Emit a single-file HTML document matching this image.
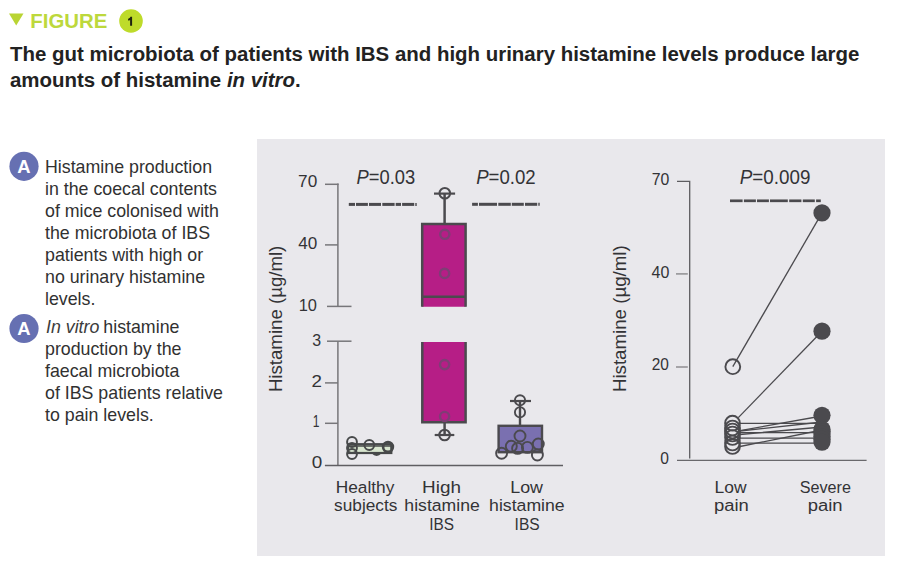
<!DOCTYPE html>
<html><head><meta charset="utf-8">
<style>
html,body{margin:0;padding:0;background:#fff;}
body{width:900px;height:583px;overflow:hidden;position:relative;font-family:"Liberation Sans",sans-serif;}
svg{position:absolute;left:0;top:0;}
text{font-family:"Liberation Sans",sans-serif;}
</style></head>
<body>
<svg width="900" height="583" viewBox="0 0 900 583">
  <!-- header -->
  <polygon points="9,13.5 23.5,13.5 16.2,25.5" fill="#b9d433"/>
  
  <circle cx="131" cy="21" r="11.8" fill="#bedb2a"/>
  <path d="M132.1,16.8 V25.8 H130.1 V19.9 C129.5,20.2 128.8,20.4 128.1,20.5 V18.8 C129.2,18.6 130,17.9 130.4,16.8 Z" fill="#1f2310"/>
  <text x="10" y="61.2" font-size="20.45" font-weight="bold" fill="#222">The gut microbiota of patients with IBS and high urinary histamine levels produce large</text>
  <text x="10" y="86.6" font-size="20.45" font-weight="bold" fill="#222">amounts of histamine <tspan font-style="italic">in vitro</tspan>.</text>

  <!-- left text -->
  <circle cx="24" cy="166.3" r="14.6" fill="#6670b2"/>
  <text x="23.9" y="172.8" font-size="18.4" font-weight="bold" fill="#fff" text-anchor="middle">A</text>
  <g font-size="17.8" fill="#313131">
    <text x="45" y="172.70">Histamine production</text>
    <text x="45" y="194.75">in the coecal contents</text>
    <text x="45" y="216.80">of mice colonised with</text>
    <text x="45" y="238.85">the microbiota of IBS</text>
    <text x="45" y="260.90">patients with high or</text>
    <text x="45" y="282.95">no urinary histamine</text>
    <text x="45" y="305.00">levels.</text>
  </g>
  <circle cx="24" cy="328.5" r="14.6" fill="#6670b2"/>
  <text x="23.9" y="334.9" font-size="18.4" font-weight="bold" fill="#fff" text-anchor="middle">A</text>
  <g font-size="17.8" fill="#313131">
    <text x="45" y="333.10"><tspan font-style="italic" fill="#3c3c3c" dx="1">In vitro</tspan><tspan dx="-1"> histamine</tspan></text>
    <text x="45" y="355.15">production by the</text>
    <text x="45" y="377.20">faecal microbiota</text>
    <text x="45" y="399.25">of IBS patients relative</text>
    <text x="45" y="421.30">to pain levels.</text>
  </g>

  <!-- panel -->
  <rect x="257" y="139" width="628" height="417" fill="#e9e8ec"/>

  <!-- chart 1 -->
  <g stroke="#77767a" stroke-width="1.5" fill="none">
    <line x1="337.9" y1="183.6" x2="337.9" y2="306.4"/>
    <line x1="337.9" y1="341.2" x2="337.9" y2="465.3"/>
    <line x1="325" y1="184.3" x2="338.6" y2="184.3"/>
    <line x1="325" y1="244.9" x2="338" y2="244.9"/>
    <line x1="327" y1="306.4" x2="351.5" y2="306.4"/>
    <line x1="327" y1="341.2" x2="351.5" y2="341.2"/>
    <line x1="325" y1="382.9" x2="338" y2="382.9"/>
    <line x1="325" y1="423.3" x2="338" y2="423.3"/>
  </g>
  <line x1="324.9" y1="465.5" x2="563" y2="465.5" stroke="#5f5e62" stroke-width="1.4"/>
  <g stroke="#4b4a4e" stroke-width="3">
    <line x1="348.8" y1="204.4" x2="355" y2="204.4"/><line x1="356" y1="204.4" x2="367.9" y2="204.4"/><line x1="369" y1="204.4" x2="381" y2="204.4"/><line x1="382.3" y1="204.4" x2="394.6" y2="204.4"/><line x1="395.7" y1="204.4" x2="401" y2="204.4"/><line x1="402.1" y1="204.4" x2="414.2" y2="204.4"/><line x1="415.3" y1="204.4" x2="416.7" y2="204.4"/>
    <line x1="472.1" y1="204.3" x2="477.9" y2="204.3"/><line x1="479" y1="204.3" x2="497" y2="204.3"/><line x1="498.3" y1="204.3" x2="510.8" y2="204.3"/><line x1="511.8" y1="204.3" x2="523.8" y2="204.3"/><line x1="525" y1="204.3" x2="537.2" y2="204.3"/><line x1="538.3" y1="204.3" x2="539.7" y2="204.3"/>
  </g>
  <!-- healthy -->
  <rect x="348" y="444.2" width="43.3" height="8.8" fill="#d8e6cf" stroke="#47494a" stroke-width="2.2"/>
  <line x1="348" y1="446" x2="391.3" y2="446" stroke="#47494a" stroke-width="1.6"/>
  <g fill="none" stroke="#47494a" stroke-width="2">
    <circle cx="352" cy="442" r="4.9"/>
    <circle cx="352" cy="448" r="4.9"/>
    <circle cx="352" cy="454" r="4.9"/>
    <circle cx="369.3" cy="445" r="4.9"/>
    <path d="M372.3,452.6 Q376.6,457.2 380.9,452.6"/>
    <circle cx="388" cy="447" r="4.9" stroke-width="2.6"/>
  </g>
  <!-- high upper -->
  <line x1="444.6" y1="193.5" x2="444.6" y2="224" stroke="#4b4a4e" stroke-width="2.5"/>
  <line x1="434" y1="193.6" x2="455.1" y2="193.6" stroke="#4b4a4e" stroke-width="2.2"/>
  <circle cx="444.8" cy="193.2" r="5.3" fill="none" stroke="#4b4a4e" stroke-width="2"/>
  <path d="M422.2,306.8 V224.1 H465.6 V306.8" fill="#b61e86" stroke="#4b4a4e" stroke-width="2.5"/>
  <line x1="422.2" y1="296.8" x2="465.6" y2="296.8" stroke="#4b4a4e" stroke-width="2.5"/>
  <g fill="none" stroke="#7f3d75" stroke-width="2.4">
    <circle cx="444.8" cy="234.3" r="4.6"/>
    <circle cx="444.6" cy="273.4" r="4.6"/>
  </g>
  <!-- high lower -->
  <path d="M422.3,342 V422.2 H465.6 V342" fill="#b61e86" stroke="#4b4a4e" stroke-width="2.5"/>
  <g fill="none" stroke="#7f3d75" stroke-width="2.4">
    <circle cx="444.6" cy="364.6" r="4.6"/>
    <circle cx="444.6" cy="416.5" r="4.6"/>
  </g>
  <line x1="444.6" y1="422" x2="444.6" y2="435" stroke="#4b4a4e" stroke-width="2.5"/>
  <line x1="434.7" y1="435" x2="454.3" y2="435" stroke="#4b4a4e" stroke-width="2.2"/>
  <circle cx="444.6" cy="435" r="5.3" fill="none" stroke="#4b4a4e" stroke-width="2"/>
  <!-- low -->
  <line x1="520" y1="401" x2="520" y2="426" stroke="#4b4a4e" stroke-width="2.4"/>
  <line x1="510" y1="401" x2="531" y2="401" stroke="#4b4a4e" stroke-width="2.2"/>
  <rect x="498.6" y="425.8" width="43.4" height="26.4" fill="#7a70b0" stroke="#4b4a4e" stroke-width="2.4"/>
  <g fill="none" stroke="#4b4a4e" stroke-width="1.9">
    <circle cx="520" cy="400.3" r="5.1"/>
    <circle cx="520" cy="412.2" r="5.1"/>
    <circle cx="520" cy="436" r="5.5"/>
    <circle cx="501.6" cy="453.2" r="5.5"/>
    <circle cx="511.3" cy="446.2" r="5.5"/>
    <circle cx="517.6" cy="448.4" r="5.5"/>
    <circle cx="527.4" cy="447.4" r="5.5"/>
    <circle cx="538.3" cy="444" r="5.5"/>
    <circle cx="537.4" cy="455" r="5.5"/>
  </g>

  <!-- chart 2 -->
  <path d="M677,181.4 H689.7 V458.5" fill="none" stroke="#5d5c60" stroke-width="1.3"/>
  <g stroke="#8f8e92" stroke-width="1.5" fill="none">
    <line x1="676" y1="273.9" x2="687.8" y2="273.9"/>
    <line x1="676" y1="367" x2="687.8" y2="367"/>
  </g>
  <line x1="677" y1="460.4" x2="866.6" y2="460.4" stroke="#69686c" stroke-width="1.3"/>
  <g stroke="#4b4a4e" stroke-width="2.7">
    <line x1="730" y1="200.8" x2="742.6" y2="200.8"/><line x1="743.9" y1="200.8" x2="755.9" y2="200.8"/><line x1="757" y1="200.8" x2="768.9" y2="200.8"/><line x1="770" y1="200.8" x2="787.8" y2="200.8"/><line x1="789.2" y1="200.8" x2="801.4" y2="200.8"/><line x1="802.8" y1="200.8" x2="814.8" y2="200.8"/><line x1="816.1" y1="200.8" x2="820.8" y2="200.8"/>
  </g>
  <g stroke="#4b4a4e" stroke-width="1.3">
    <line x1="732.8" y1="366.7" x2="822" y2="212.9"/>
    <line x1="738.3" y1="417.6" x2="822" y2="331.2"/>
    <line x1="740" y1="423.3" x2="822" y2="423.3"/>
    <line x1="740" y1="430.6" x2="822" y2="416"/>
    <line x1="740" y1="431" x2="822" y2="422"/>
    <line x1="740" y1="432.6" x2="822" y2="432.6"/>
    <line x1="740" y1="434.5" x2="822" y2="427"/>
    <line x1="740" y1="438.2" x2="822" y2="438.2"/>
    <line x1="740" y1="443.2" x2="822" y2="443.2"/>
    <line x1="740" y1="446.5" x2="822" y2="430"/>
  </g>
  <g fill="none" stroke="#4b4a4e" stroke-width="1.9">
    <circle cx="732.8" cy="366.7" r="7.4"/>
    <circle cx="732.5" cy="423.2" r="7.4"/>
    <circle cx="732.5" cy="428" r="7.4"/>
    <circle cx="732.5" cy="431" r="7.4"/>
    <circle cx="732.5" cy="434" r="7.4"/>
    <circle cx="732.5" cy="437.5" r="7.4"/>
    <circle cx="732.5" cy="443" r="7.4"/>
    <circle cx="732.5" cy="446.5" r="7.4"/>
  </g>
  <g fill="#4b4a4e">
    <circle cx="822" cy="212.9" r="8.6"/>
    <circle cx="822" cy="331.2" r="8.6"/>
    <circle cx="822" cy="415.3" r="8.6"/>
    <circle cx="822" cy="429.4" r="8.6"/>
    <circle cx="822" cy="431.5" r="8.6"/>
    <circle cx="822" cy="434" r="8.6"/>
    <circle cx="822" cy="436.5" r="8.6"/>
    <circle cx="822" cy="439.2" r="8.6"/>
    <circle cx="822" cy="442.1" r="8.6"/>
  </g>
  <text x="30.33" y="28.0" font-size="20.8" font-weight="bold" fill="#bdd83c" textLength="77.14" lengthAdjust="spacingAndGlyphs">FIGURE</text>
  <text x="298.10" y="187.1" font-size="17.2" font-weight="normal" fill="#333336" textLength="19.13" lengthAdjust="spacingAndGlyphs">70</text>
  <text x="298.20" y="248.6" font-size="17.2" font-weight="normal" fill="#333336" textLength="19.03" lengthAdjust="spacingAndGlyphs">40</text>
  <text x="298.76" y="310.5" font-size="17.2" font-weight="normal" fill="#333336" textLength="18.24" lengthAdjust="spacingAndGlyphs">10</text>
  <text x="312.15" y="346.3" font-size="17.2" font-weight="normal" fill="#333336" textLength="8.86" lengthAdjust="spacingAndGlyphs">3</text>
  <text x="311.42" y="387.0" font-size="17.2" font-weight="normal" fill="#333336" textLength="10.43" lengthAdjust="spacingAndGlyphs">2</text>
  <text x="312.79" y="427.1" font-size="17.2" font-weight="normal" fill="#333336" textLength="6.72" lengthAdjust="spacingAndGlyphs">1</text>
  <text x="311.73" y="468.4" font-size="17.2" font-weight="normal" fill="#333336" textLength="10.50" lengthAdjust="spacingAndGlyphs">0</text>
  <text x="356.55" y="183.7" font-size="20.0" font-weight="normal" fill="#333336" textLength="58.63" lengthAdjust="spacingAndGlyphs"><tspan font-style="italic">P</tspan>=0.03</text>
  <text x="476.14" y="183.7" font-size="20.0" font-weight="normal" fill="#333336" textLength="59.53" lengthAdjust="spacingAndGlyphs"><tspan font-style="italic">P</tspan>=0.02</text>
  <text x="335.71" y="492.8" font-size="17.4" font-weight="normal" fill="#333336" textLength="58.59" lengthAdjust="spacingAndGlyphs">Healthy</text>
  <text x="334.10" y="511.2" font-size="17.4" font-weight="normal" fill="#333336" textLength="63.22" lengthAdjust="spacingAndGlyphs">subjects</text>
  <text x="422.08" y="492.8" font-size="17.4" font-weight="normal" fill="#333336" textLength="38.91" lengthAdjust="spacingAndGlyphs">High</text>
  <text x="404.39" y="511.2" font-size="17.4" font-weight="normal" fill="#333336" textLength="75.39" lengthAdjust="spacingAndGlyphs">histamine</text>
  <text x="429.19" y="529.5" font-size="17.4" font-weight="normal" fill="#333336" textLength="24.77" lengthAdjust="spacingAndGlyphs">IBS</text>
  <text x="510.26" y="492.8" font-size="17.4" font-weight="normal" fill="#333336" textLength="32.76" lengthAdjust="spacingAndGlyphs">Low</text>
  <text x="489.08" y="511.2" font-size="17.4" font-weight="normal" fill="#333336" textLength="75.60" lengthAdjust="spacingAndGlyphs">histamine</text>
  <text x="514.57" y="529.5" font-size="17.4" font-weight="normal" fill="#333336" textLength="25.10" lengthAdjust="spacingAndGlyphs">IBS</text>
  <text x="651.82" y="184.6" font-size="16.2" font-weight="normal" fill="#333336" textLength="17.59" lengthAdjust="spacingAndGlyphs">70</text>
  <text x="651.50" y="277.6" font-size="16.2" font-weight="normal" fill="#333336" textLength="17.81" lengthAdjust="spacingAndGlyphs">40</text>
  <text x="651.74" y="369.8" font-size="16.2" font-weight="normal" fill="#333336" textLength="17.15" lengthAdjust="spacingAndGlyphs">20</text>
  <text x="660.22" y="463.5" font-size="16.2" font-weight="normal" fill="#333336" textLength="8.66" lengthAdjust="spacingAndGlyphs">0</text>
  <text x="739.72" y="183.6" font-size="19.6" font-weight="normal" fill="#333336" textLength="70.71" lengthAdjust="spacingAndGlyphs"><tspan font-style="italic">P</tspan>=0.009</text>
  <text x="714.58" y="493.1" font-size="16.0" font-weight="normal" fill="#333336" textLength="31.96" lengthAdjust="spacingAndGlyphs">Low</text>
  <text x="713.95" y="511.2" font-size="16.0" font-weight="normal" fill="#333336" textLength="34.86" lengthAdjust="spacingAndGlyphs">pain</text>
  <text x="799.69" y="493.1" font-size="16.0" font-weight="normal" fill="#333336" textLength="51.21" lengthAdjust="spacingAndGlyphs">Severe</text>
  <text x="807.65" y="511.2" font-size="16.0" font-weight="normal" fill="#333336" textLength="34.86" lengthAdjust="spacingAndGlyphs">pain</text>
  <text transform="translate(281.8,392.11) rotate(-90)" x="0" y="0" font-size="18.5" fill="#333336" textLength="146.44" lengthAdjust="spacingAndGlyphs">Histamine (µg/ml)</text>
  <text transform="translate(625.9,392.12) rotate(-90)" x="0" y="0" font-size="18.5" fill="#333336" textLength="146.84" lengthAdjust="spacingAndGlyphs">Histamine (µg/ml)</text>
</svg>
</body></html>
